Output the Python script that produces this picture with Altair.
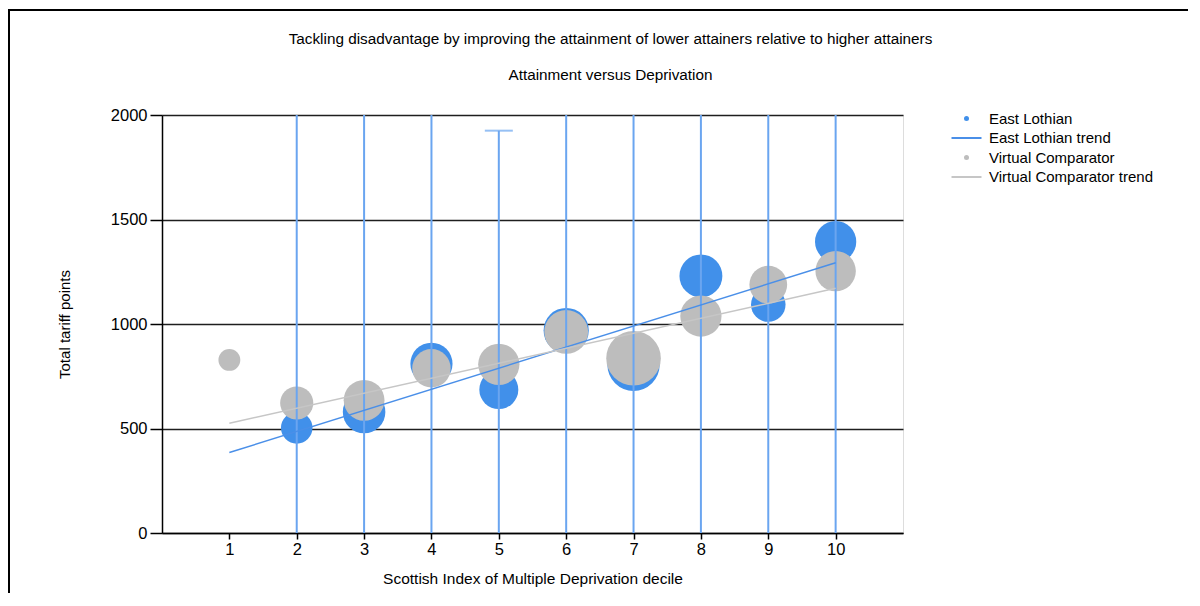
import altair as alt
import pandas as pd

# ---- data ----
el_decile = [2, 3, 4, 5, 6, 7, 8, 9, 10]
el_tariff = [503, 579, 810, 686, 969, 805, 1230, 1093, 1394]
el_pupils = [158, 288, 283, 242, 325, 435, 293, 190, 271]
el_err_low = [-1200, -1100, -600, -553, -400, -700, -200, -300, -100]
el_err_high = [2200, 2260, 2220, 1925, 2340, 2310, 2660, 2490, 2890]

vc_decile = [1, 2, 3, 4, 5, 6, 7, 8, 9, 10]
vc_tariff = [828, 622, 635, 788, 807, 962, 836, 1038, 1188, 1253]
vc_pupils = [76, 175, 265, 235, 271, 305, 474, 271, 227, 260]

trend_decile = [1, 10]
el_trend = [385, 1293]
vc_trend = [525, 1171]

series_names = ["East Lothian", "East Lothian trend", "Virtual Comparator", "Virtual Comparator trend"]
series_colors = ["#4190EA", "#4A8FE8", "#BDBDBD", "#C6C6C6"]
# legend symbols: dot for the bubble series, a short line for the trends
LINE_SYMBOL = "M-6,-0.4H6V0.4H-6Z"
series_shapes = ["circle", LINE_SYMBOL, "circle", LINE_SYMBOL]

x_ticks = [1, 2, 3, 4, 5, 6, 7, 8, 9, 10]
y_ticks = [0, 500, 1000, 1500, 2000]

FONT = "Liberation Sans"

el_df = pd.DataFrame({"decile": el_decile, "tariff": el_tariff, "pupils": el_pupils,
                      "low": el_err_low, "high": el_err_high, "series": "East Lothian"})
vc_df = pd.DataFrame({"decile": vc_decile, "tariff": vc_tariff, "pupils": vc_pupils,
                      "series": "Virtual Comparator"})
trend_df = pd.concat([
    pd.DataFrame({"decile": trend_decile, "tariff": el_trend, "series": "East Lothian trend"}),
    pd.DataFrame({"decile": trend_decile, "tariff": vc_trend, "series": "Virtual Comparator trend"}),
])

color_scale = alt.Scale(domain=series_names, range=series_colors)
shape_scale = alt.Scale(domain=series_names, range=series_shapes)
size_scale = alt.Scale(domain=[0, 500], range=[0, 3141.6], zero=True)

legend = alt.Legend(
    title=None, orient="none", legendX=797, legendY=-4, padding=0,
    symbolSize=25, symbolStrokeWidth=0, labelOffset=15, rowPadding=3.5,
    labelFontSize=15, labelFont=FONT, labelColor="black", labelLimit=300,
)

x_enc = alt.X("decile:Q", scale=alt.Scale(domain=[0, 11], nice=False, zero=False),
              axis=alt.Axis(values=x_ticks, format="d",
                            title="Scottish Index of Multiple Deprivation decile",
                            grid=False, tickSize=6, tickWidth=1.5, tickColor="black",
                            domainColor="black", domainWidth=1.5,
                            labelFontSize=16.5, labelPadding=2, labelColor="black", labelFont=FONT,
                            labelFlush=False,
                            titleFontSize=15.5, titleFontWeight="normal", titleFont=FONT,
                            titleColor="black", titleY=45, titleBaseline="middle"))
y_enc = alt.Y("tariff:Q", scale=alt.Scale(domain=[0, 2000], nice=False),
              axis=alt.Axis(values=y_ticks, format="d", title="Total tariff points",
                            grid=True, gridColor="#1e1e1e", gridWidth=1.5,
                            tickSize=12, tickWidth=1.5, tickColor="black",
                            domainColor="black", domainWidth=1.5,
                            labelFontSize=16.5, labelPadding=3, labelColor="black", labelFont=FONT,
                            titleFontSize=15, titleFontWeight="normal", titleFont=FONT,
                            titleColor="black", titleX=-98, titleY=209,
                            titleAlign="center", titleBaseline="middle"))

border = alt.Chart(pd.DataFrame({"k": [0]})).mark_rect(
    fillOpacity=0, stroke="black", strokeWidth=2, clip=False
).encode(x=alt.value(-153), x2=alt.value(1300), y=alt.value(-105), y2=alt.value(700))

el_bubbles = alt.Chart(el_df).mark_point(filled=True, opacity=1, strokeWidth=0).encode(
    x=x_enc, y=y_enc,
    size=alt.Size("pupils:Q", scale=size_scale, legend=None),
    color=alt.Color("series:N", scale=color_scale, legend=legend),
    shape=alt.Shape("series:N", scale=shape_scale, legend=legend),
)
vc_bubbles = alt.Chart(vc_df).mark_point(filled=True, opacity=1, strokeWidth=0).encode(
    x="decile:Q", y="tariff:Q",
    size=alt.Size("pupils:Q", scale=size_scale, legend=None),
    color=alt.Color("series:N", scale=color_scale, legend=legend),
    shape=alt.Shape("series:N", scale=shape_scale, legend=legend),
)
err_rules = alt.Chart(el_df).mark_rule(color="#6AA5F0", strokeWidth=2, clip=True).encode(
    x="decile:Q", y="low:Q", y2="high:Q")
err_caps_hi = alt.Chart(el_df).mark_tick(color="#6AA5F0", orient="horizontal", size=28,
                                         thickness=2, clip=True).encode(x="decile:Q", y="high:Q")
err_caps_lo = alt.Chart(el_df).mark_tick(color="#6AA5F0", orient="horizontal", size=28,
                                         thickness=2, clip=True).encode(x="decile:Q", y="low:Q")
trends = alt.Chart(trend_df).mark_line(strokeWidth=1.5).encode(
    x="decile:Q", y="tariff:Q",
    color=alt.Color("series:N", scale=color_scale, legend=legend),
    detail="series:N")

chart = alt.layer(
    border, el_bubbles, vc_bubbles, err_rules, err_caps_hi, err_caps_lo, trends
).properties(
    width=741, height=418,
    autosize=alt.AutoSizeParams(type="none"),
    padding={"left": 154, "top": 107, "right": 285, "bottom": 60},
    title=alt.Title(
        text="Tackling disadvantage by improving the attainment of lower attainers relative to higher attainers",
        subtitle="Attainment versus Deprivation",
        font=FONT, fontSize=15.3, fontWeight="normal", color="black",
        subtitleFont=FONT, subtitleFontSize=15.3, subtitleColor="black", subtitlePadding=20,
        anchor="middle", frame="group", dx=78, offset=-74,
    ),
).configure_view(stroke="transparent").configure(background="white")

chart.save("out.html", embed_options={"renderer": "svg", "actions": False})
